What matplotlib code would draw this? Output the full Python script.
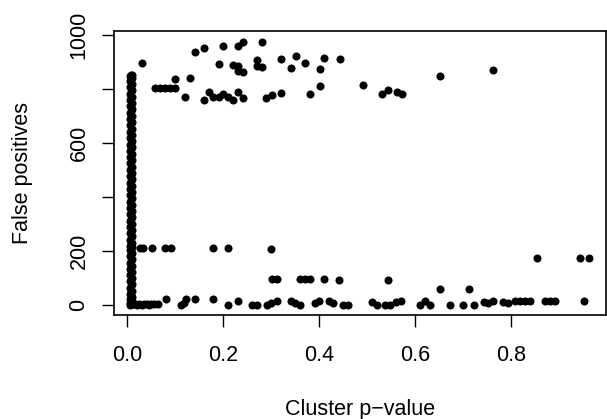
import matplotlib
matplotlib.use("Agg")
import matplotlib.pyplot as plt

plt.rcParams['font.family'] = ['Liberation Sans', 'DejaVu Sans']

# Dense column of clusters with p-value ~0.005-0.01
col_left_y = [0, 8, 22, 41, 63, 86, 110, 133, 156, 180, 204, 218, 241, 264, 288, 311, 335,
              358, 382, 405, 429, 452, 476, 499, 523, 546, 570, 593, 617, 640, 664, 687,
              711, 734, 758, 781, 805, 828, 845]
col_mid_y = [5, 18, 35, 52, 70, 92, 116, 140, 162, 186, 208, 225, 247, 270, 294, 317, 341,
             364, 388, 411, 435, 458, 482, 505, 529, 552, 576, 599, 623, 646, 670, 693,
             717, 740, 764, 787, 811, 834, 852]
col_right_y = [3, 14, 30, 52, 75, 98, 121, 145, 168, 192, 212, 229, 253, 276, 300, 323, 347,
               370, 394, 417, 441, 464, 488, 511, 535, 558, 582, 605, 629, 652, 676, 699,
               723, 746, 770, 793, 817, 840, 850]
col_left_x = 0.006
col_mid_x = 0.0075
col_right_x = 0.009

# Horizontal streak near zero
streak_x = [0.012, 0.016, 0.020, 0.025, 0.030, 0.035, 0.040, 0.045, 0.050, 0.056, 0.064]
streak_y = [1, 4, 0, 2, 0, 3, 1, 0, 2, 1, 1]

# Upper cluster (~750-975)
top_x = [0.030, 0.058, 0.068, 0.079, 0.089, 0.099, 0.099, 0.131, 0.120, 0.140, 0.160, 0.200,
         0.230, 0.240, 0.281, 0.190, 0.219, 0.231, 0.231, 0.240, 0.270, 0.270, 0.281, 0.320,
         0.341, 0.351, 0.370, 0.401, 0.410, 0.442, 0.401, 0.381, 0.160, 0.170, 0.179, 0.190,
         0.200, 0.210, 0.219, 0.231, 0.240, 0.289, 0.301, 0.320, 0.490, 0.531, 0.542, 0.561,
         0.572, 0.651, 0.761]
top_y = [896, 801, 801, 801, 801, 801, 836, 838, 770, 935, 952, 956,
         958, 972, 972, 890, 888, 885, 865, 861, 904, 882, 879, 909,
         875, 921, 896, 872, 913, 909, 810, 779, 756, 787, 770, 767,
         779, 767, 758, 787, 764, 764, 777, 783, 814, 780, 793, 787,
         779, 848, 867]

# Middle rows (~50-215)
mid_x = [0.026, 0.033, 0.051, 0.078, 0.091, 0.179, 0.210, 0.300,
         0.301, 0.311, 0.360, 0.370, 0.380, 0.410, 0.440, 0.542,
         0.853, 0.942, 0.961, 0.651, 0.712]
mid_y = [211, 211, 211, 211, 211, 211, 211, 206,
         95, 95, 95, 95, 95, 95, 91, 93,
         172, 172, 172, 58, 58]

# Bottom row (~0-20)
bot_x = [0.080, 0.112, 0.117, 0.122, 0.141, 0.179, 0.210, 0.231, 0.259, 0.270, 0.290, 0.300,
         0.311, 0.341, 0.349, 0.360, 0.390, 0.400, 0.419, 0.428, 0.450, 0.460, 0.509, 0.520,
         0.537, 0.547, 0.560, 0.570, 0.610, 0.620, 0.630, 0.671, 0.700, 0.722, 0.742, 0.752,
         0.762, 0.782, 0.792, 0.808, 0.818, 0.829, 0.839, 0.870, 0.880, 0.890, 0.951]
bot_y = [20, 0, 8, 20, 20, 20, 0, 15, 0, 0, 0, 5,
         15, 15, 5, 0, 5, 15, 15, 5, 0, 0, 10, 0,
         0, 0, 10, 15, 0, 12, 0, 0, 0, 0, 10, 5,
         15, 10, 5, 13, 13, 13, 13, 13, 13, 13, 13]

x_ticks = [0.0, 0.2, 0.4, 0.6, 0.8]
x_tick_labels = ["0.0", "0.2", "0.4", "0.6", "0.8"]
y_ticks = [0, 200, 400, 600, 800, 1000]
y_tick_labels = ["0", "200", "", "600", "", "1000"]

fig = plt.figure(figsize=(6.07, 4.19), dpi=100)
ax = fig.add_axes([114 / 607, (419 - 315) / 419, 492 / 607, 283.7 / 419])

ms = 5.8
kw = dict(linestyle='none', marker='o', markersize=ms, color='black', markeredgewidth=0)
ax.plot([col_left_x] * len(col_left_y), col_left_y, **kw)
ax.plot([col_mid_x] * len(col_mid_y), col_mid_y, **kw)
ax.plot([col_right_x] * len(col_right_y), col_right_y, **kw)
ax.plot(streak_x, streak_y, **kw)
ax.plot(top_x, top_y, **kw)
ax.plot(mid_x, mid_y, **kw)
ax.plot(bot_x, bot_y, **kw)

ax.set_xlim(-0.028, 0.997)
ax.set_ylim(-38, 1012)

ax.set_xticks(x_ticks)
ax.set_xticklabels(x_tick_labels)
ax.set_yticks(y_ticks)
ax.set_yticklabels(y_tick_labels, rotation=90, va='center')

for s in ax.spines.values():
    s.set_linewidth(1.2)
    s.set_color('black')

ax.tick_params(axis='both', direction='out', length=8.6, width=1.0, labelsize=15.5, colors='black')
ax.tick_params(axis='x', pad=13)
ax.tick_params(axis='y', pad=9)

ax.set_xlabel("Cluster p\u2212value", fontsize=15.5, va='center')
ax.set_ylabel("False positives", fontsize=15.5, va='center')
ax.xaxis.set_label_coords(0.5, -0.334)
ax.yaxis.set_label_coords(-0.185, 0.5)

fig.savefig("out.png", dpi=100)
